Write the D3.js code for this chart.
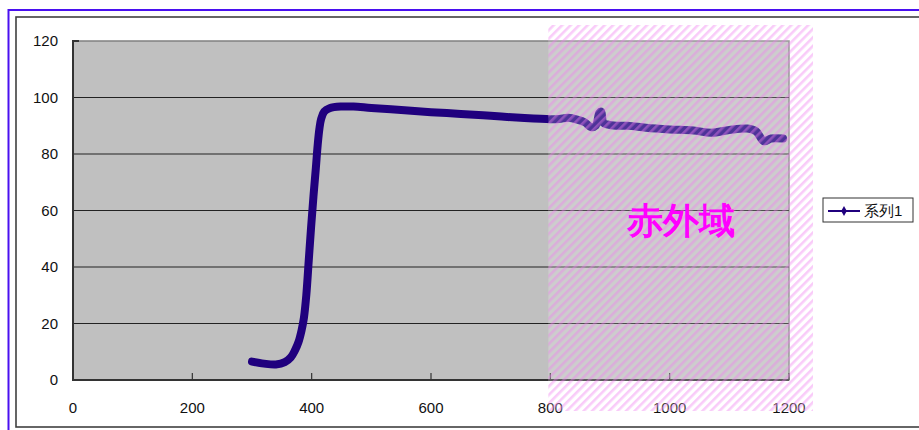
<html>
<head>
  <meta charset="utf-8">
  <script src="https://d3js.org/d3.v7.min.js"></script>
  <style>
    body { margin: 0; background: #fff; }
    text { font-family: "Liberation Sans", Arial, sans-serif; }
  </style>
</head>
<body>
<svg width="919" height="430"></svg>
<script>
  // wavelength (nm) and transmittance (%)
  let wavelengths = [300, 320, 340, 355, 365, 372, 378, 383, 387, 391, 395, 399, 403, 407, 410, 413, 416, 421, 430, 450, 470, 500, 550, 600, 650, 700, 750, 800,
                     815, 830, 845, 858, 868, 876, 882, 885, 889, 895, 910, 930, 960, 1000, 1040, 1070, 1100, 1130, 1145, 1158, 1170, 1190];
  let values = [6.5, 5.8, 5.5, 6.3, 8, 10.5, 13.5, 17.5, 22, 30, 42, 54, 65, 75, 83, 89, 92.5, 95, 96.2, 96.8, 96.8, 96.3, 95.6, 94.8, 94.2, 93.5, 92.8, 92.3,
                92.4, 92.8, 92.2, 91.2, 89.5, 90, 94.5, 95, 91, 90.5, 90, 90, 89.3, 88.7, 88.3, 87.5, 88.5, 89, 88, 84.5, 85.5, 85.5];
  let xTicks = [0, 200, 400, 600, 800, 1000, 1200];
  let yTicks = [0, 20, 40, 60, 80, 100, 120];
  let seriesName = "系列1";
  let regionLabel = "赤外域";
  let regionStart = 800;

  let data = wavelengths.map((w, i) => ({x: w, y: values[i]}));

  let svg = d3.select("svg");

  let x = d3.scaleLinear().domain([0, 1200]).range([73, 789]);
  let y = d3.scaleLinear().domain([0, 120]).range([380, 41]);

  // outer frames
  svg.append("rect").attr("x", 8.5).attr("y", 10).attr("width", 930).attr("height", 440)
     .attr("fill", "none").attr("stroke", "#4a10f0").attr("stroke-width", 2);
  svg.append("rect").attr("x", 16).attr("y", 17).attr("width", 920).attr("height", 410)
     .attr("fill", "none").attr("stroke", "#404040").attr("stroke-width", 1.6);

  // hatch pattern
  let defs = svg.append("defs");
  let pat = defs.append("pattern").attr("id", "hatch")
     .attr("patternUnits", "userSpaceOnUse").attr("width", 6).attr("height", 6)
     .attr("patternTransform", "rotate(45)");
  pat.append("rect").attr("width", 6).attr("height", 6).attr("fill", "#fff").attr("fill-opacity", 0.2);
  pat.append("rect").attr("x", 0).attr("width", 2.6).attr("height", 6).attr("fill", "#f07cf0").attr("fill-opacity", 0.4);

  // plot area
  svg.append("rect").attr("x", x(0)).attr("y", y(120)).attr("width", x(1200) - x(0)).attr("height", y(0) - y(120))
     .attr("fill", "#c0c0c0").attr("stroke", "#808080").attr("stroke-width", 1.5);

  // gridlines
  svg.append("g").selectAll("line").data(yTicks.filter(d => d > 0 && d < 120)).enter().append("line")
     .attr("x1", x(0)).attr("x2", x(1200)).attr("y1", d => y(d)).attr("y2", d => y(d))
     .attr("stroke", "#222").attr("stroke-width", 1.2);

  // axes lines
  svg.append("line").attr("x1", x(0)).attr("x2", x(0)).attr("y1", y(120) - 1).attr("y2", y(0) + 1)
     .attr("stroke", "#333").attr("stroke-width", 2);
  svg.append("line").attr("x1", x(0) - 1).attr("x2", x(1200)).attr("y1", y(0)).attr("y2", y(0))
     .attr("stroke", "#333").attr("stroke-width", 2);
  svg.append("line").attr("x1", x(0)).attr("x2", x(0) + 6).attr("y1", y(120)).attr("y2", y(120))
     .attr("stroke", "#333").attr("stroke-width", 2);

  // x ticks (inside)
  svg.append("g").selectAll("line").data(xTicks.slice(1)).enter().append("line")
     .attr("x1", d => x(d)).attr("x2", d => x(d)).attr("y1", y(0)).attr("y2", y(0) - 7)
     .attr("stroke", "#333").attr("stroke-width", 1.2);

  // tick labels
  svg.append("g").selectAll("text").data(yTicks).enter().append("text")
     .attr("x", 58).attr("y", d => y(d) + 5).attr("text-anchor", "end")
     .attr("font-size", 15).attr("fill", "#111").text(d => d);
  svg.append("g").selectAll("text").data(xTicks).enter().append("text")
     .attr("x", d => x(d)).attr("y", 413).attr("text-anchor", "middle")
     .attr("font-size", 15).attr("fill", "#111").text(d => d);

  // series line
  let line = d3.line().x(d => x(d.x)).y(d => y(d.y)).curve(d3.curveCatmullRom);
  svg.append("path").attr("d", line(data)).attr("fill", "none")
     .attr("stroke", "#20007e").attr("stroke-width", 8)
     .attr("stroke-linejoin", "round").attr("stroke-linecap", "round");

  // infrared region overlay
  svg.append("rect").attr("x", x(regionStart) - 2).attr("y", 25)
     .attr("width", x(1200) - x(regionStart) + 26).attr("height", 386)
     .attr("fill", "url(#hatch)");

  svg.append("text").attr("x", 681).attr("y", 233).attr("text-anchor", "middle")
     .attr("font-family", "'Noto Sans CJK JP', sans-serif").attr("font-weight", "900")
     .attr("font-size", 36).attr("fill", "#ff00ff").text(regionLabel);

  // legend
  let lg = svg.append("g").attr("transform", "translate(823,198)");
  lg.append("rect").attr("width", 90).attr("height", 24).attr("fill", "#fff")
     .attr("stroke", "#333").attr("stroke-width", 1);
  lg.append("line").attr("x1", 5).attr("x2", 37).attr("y1", 13).attr("y2", 13)
     .attr("stroke", "#20007e").attr("stroke-width", 2);
  lg.append("path").attr("d", d3.symbol().type(d3.symbolDiamond).size(28))
     .attr("transform", "translate(21,13)").attr("fill", "#20007e");
  lg.append("text").attr("x", 41).attr("y", 18).attr("font-size", 15)
     .attr("font-family", "'Noto Sans CJK JP', sans-serif").attr("fill", "#111").text(seriesName);
</script>
</body>
</html>
